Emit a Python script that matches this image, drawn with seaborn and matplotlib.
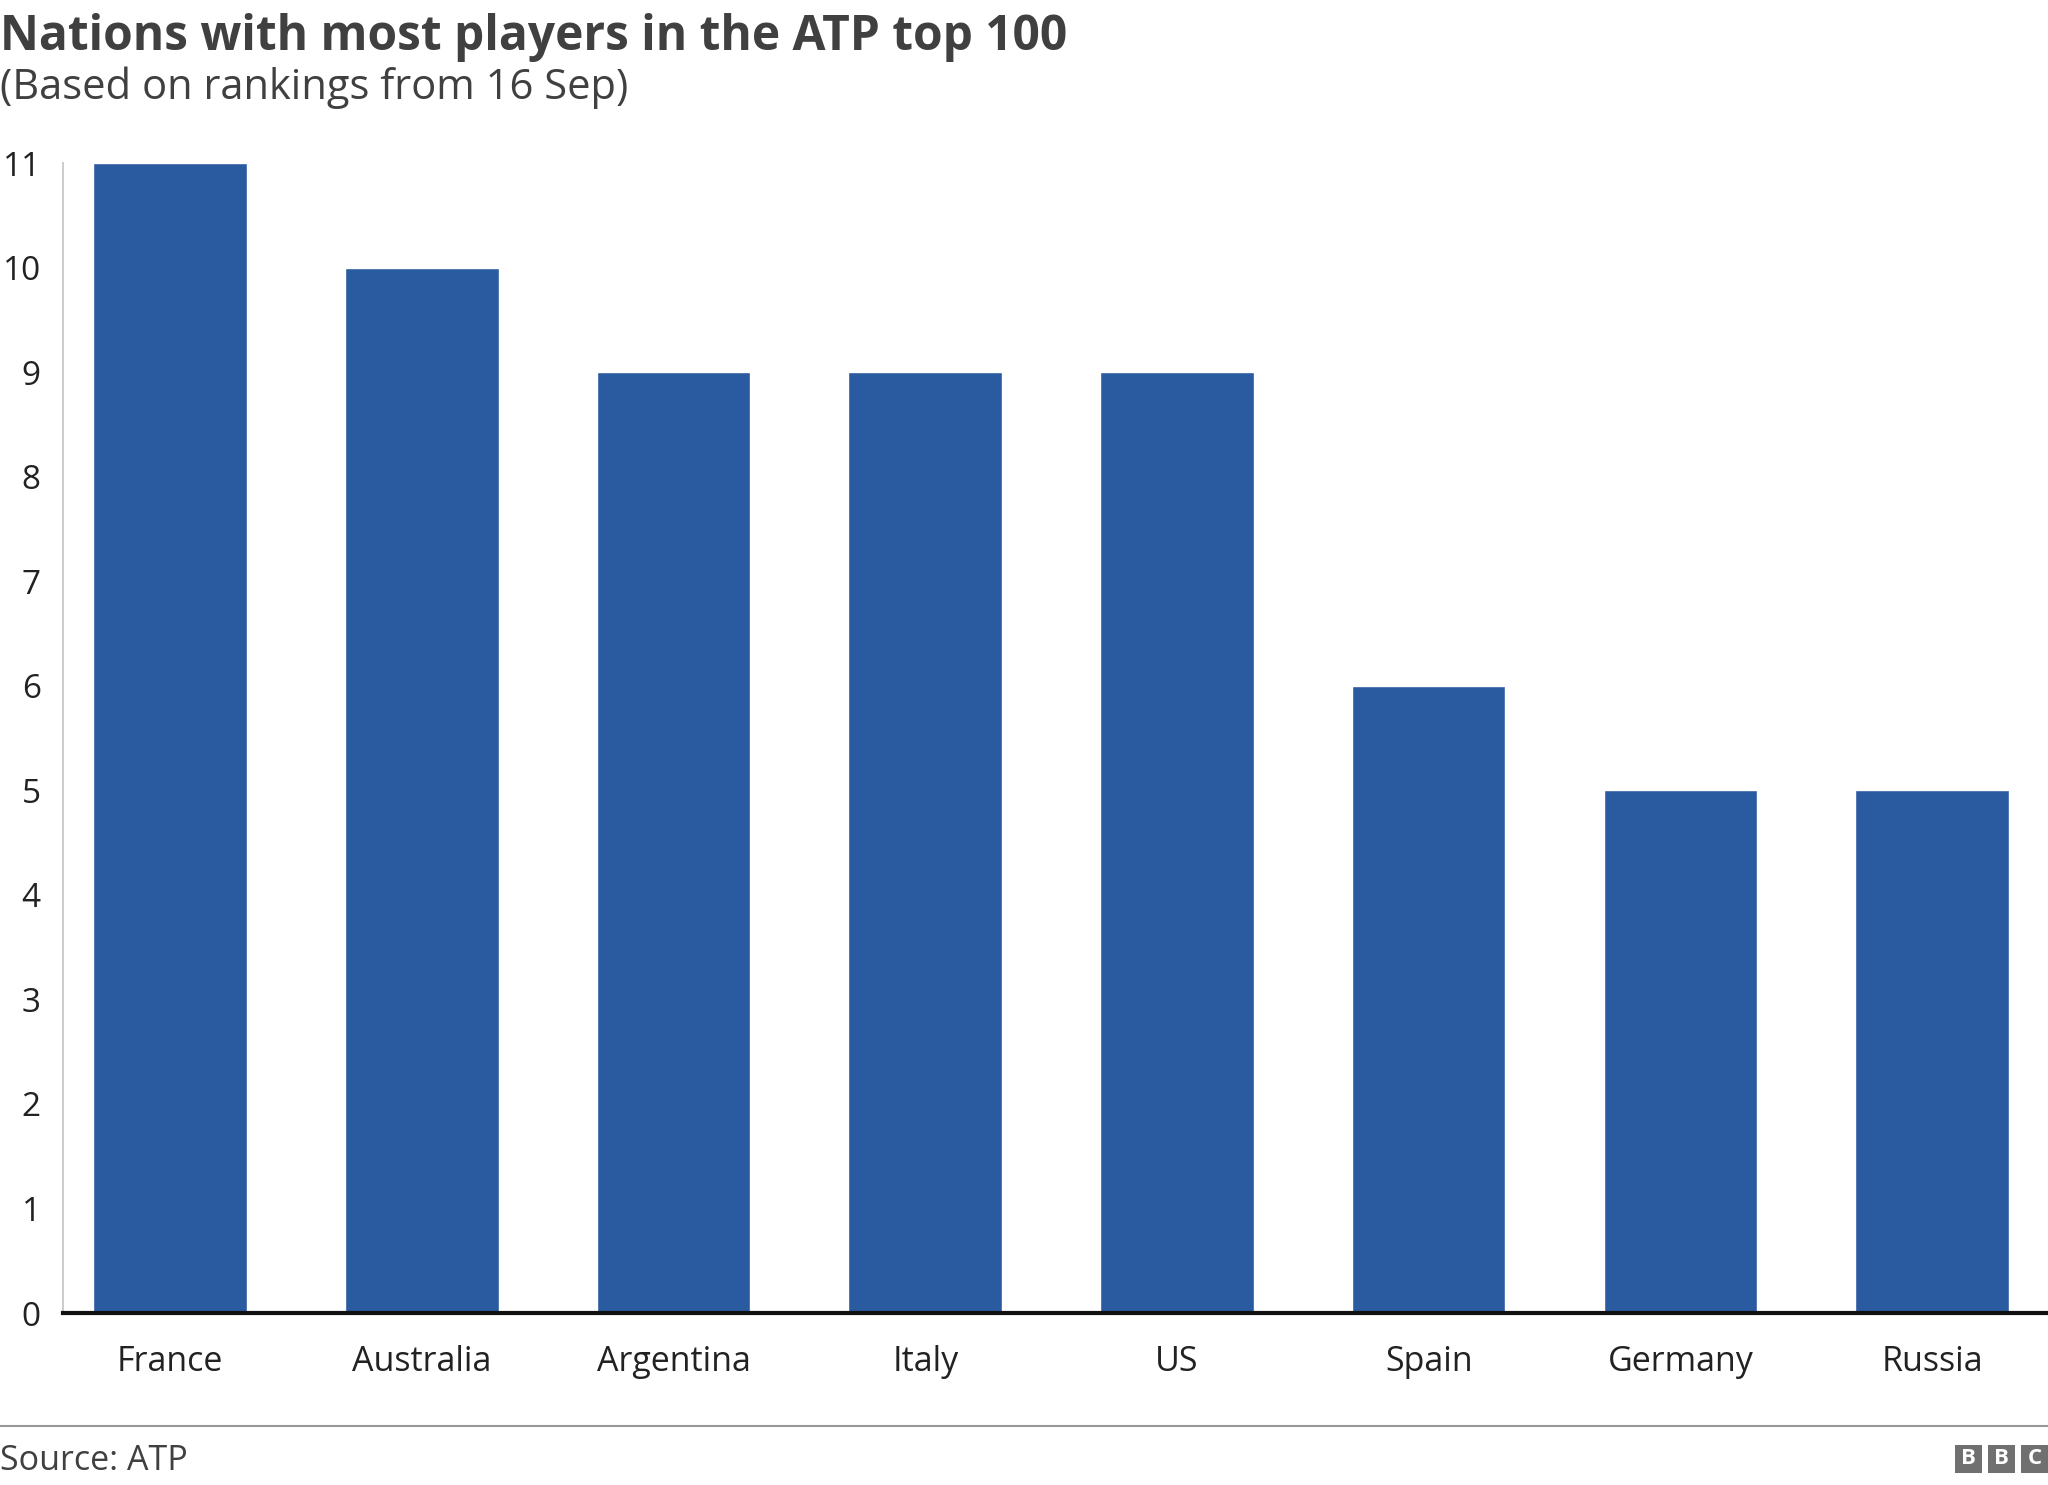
import pandas as pd
import matplotlib
matplotlib.use('Agg')
import matplotlib.pyplot as plt
import seaborn as sns
from matplotlib.patches import Rectangle
from matplotlib.lines import Line2D

# 数据
nations = ['France', 'Australia', 'Argentina', 'Italy', 'US', 'Spain', 'Germany', 'Russia']
players = [11, 10, 9, 9, 9, 6, 5, 5]
y_ticks = list(range(0, 12))

title = 'Nations with most players in the ATP top 100'
subtitle = '(Based on rankings from 16 Sep)'
source = 'Source: ATP'

bar_color = '#2a5a9f'
text_color = '#404040'

sns.set_theme(style='white')
plt.rcParams['font.family'] = ['Open Sans', 'DejaVu Sans']

W, H = 2048, 1485
fig = plt.figure(figsize=(W / 100, H / 100), dpi=100)

# 坐标轴位置 (像素换算)
ax_left, ax_right = 63, 2048
ax_top, ax_bottom = 163, 1313
ax = fig.add_axes([ax_left / W, 1 - ax_bottom / H,
                   (ax_right - ax_left) / W, (ax_bottom - ax_top) / H])

df = pd.DataFrame({'nation': nations, 'players': players})
sns.barplot(data=df, x='nation', y='players', color=bar_color,
            saturation=1, width=0.61, ax=ax)

ax.set_xlim(-0.425, 7.46)
ax.set_ylim(0, 11)
ax.set_yticks(y_ticks)
ax.set_xlabel('')
ax.set_ylabel('')
ax.grid(False)

for side in ['top', 'right']:
    ax.spines[side].set_visible(False)
ax.spines['left'].set_color('#cccccc')
ax.spines['left'].set_linewidth(1.4)
ax.spines['bottom'].set_color('#111111')
ax.spines['bottom'].set_linewidth(3)
ax.spines['bottom'].set_zorder(5)

ax.tick_params(axis='y', length=0, pad=16, labelsize=24, labelcolor='#222222')
ax.tick_params(axis='x', length=0, pad=23, labelsize=24.5, labelcolor='#222222')

# 标题
fig.text(0, 1 - 50 / H, title, fontsize=34.5, fontweight='bold',
         color=text_color, ha='left', va='baseline')
fig.text(0, 1 - 99 / H, subtitle, fontsize=30, color=text_color,
         ha='left', va='baseline')

# 页脚
fig.add_artist(Line2D([0, 1], [1 - 1426 / H, 1 - 1426 / H],
                      transform=fig.transFigure, color='#999999', lw=1.5))
fig.text(0, 1 - 1470 / H, source, fontsize=24.5, color=text_color,
         ha='left', va='baseline')

# BBC 标志
for i, letter in enumerate('BBC'):
    x0 = 1955 + i * 33
    fig.add_artist(Rectangle((x0 / W, 1 - 1473 / H), 27 / W, 28 / H,
                             transform=fig.transFigure, color='#707070', lw=0))
    fig.text((x0 + 13.5) / W, 1 - 1459 / H, letter, fontsize=16,
             fontweight='bold', color='white', ha='center', va='center')

fig.savefig('out.png', dpi=100)
plt.close(fig)
